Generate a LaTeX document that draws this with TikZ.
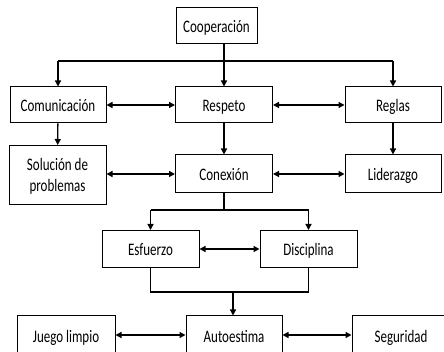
\documentclass[tikz,border=0pt]{standalone}
\usepackage{fontspec}
\setmainfont{Carlito}
\usetikzlibrary{arrows.meta}
\newcommand\tx[1]{\raisebox{-2pt}[\height][\depth]{\scalebox{1}[1.35]{\begin{tabular}{@{}c@{}}#1\end{tabular}}}}
\begin{document}
\begin{tikzpicture}[x=1pt,y=-1pt,
  box/.style={draw,line width=1pt,fill=white,inner sep=0pt,align=center,
    font=\fontsize{13}{15.5}\selectfont},
  conn/.style={line width=1.3pt},
  arr/.style={conn,-{Triangle[length=6pt,width=6pt]}},
  darr/.style={conn,{Triangle[length=6pt,width=6pt]}-{Triangle[length=6pt,width=6pt]}}]
\useasboundingbox (0,0) rectangle (444,352);
\clip (0,0) rectangle (444,352);
\fill[white] (0,0) rectangle (444,352);
% nodes
\node[box,minimum width=81pt,minimum height=36pt] (coop) at (216.5,26) {\tx{Cooperación}};
\node[box,minimum width=96pt,minimum height=36pt] (com) at (58,105) {\tx{Comunicación}};
\node[box,minimum width=97pt,minimum height=36pt] (res) at (224,105) {\tx{Respeto}};
\node[box,minimum width=96pt,minimum height=36pt] (reg) at (393,105) {\tx{Reglas}};
\node[box,minimum width=97pt,minimum height=59pt] (sol) at (57.5,175) {\tx{Solución de\\problemas}};
\node[box,minimum width=97pt,minimum height=38pt] (con) at (224,174) {\tx{Conexión}};
\node[box,minimum width=96pt,minimum height=38pt] (lid) at (393,174) {\tx{Liderazgo}};
\node[box,minimum width=97pt,minimum height=37pt] (esf) at (150.5,249) {\tx{Esfuerzo}};
\node[box,minimum width=97pt,minimum height=37pt] (dis) at (308.5,249) {\tx{Disciplina}};
\node[box,minimum width=98pt,minimum height=40pt] (jue) at (66,336) {\tx{Juego limpio}};
\node[box,minimum width=96pt,minimum height=40pt] (aut) at (234,336) {\tx{Autoestima}};
\node[box,minimum width=98pt,minimum height=40pt] (seg) at (401,336) {\tx{Seguridad}};
% junctions
\coordinate (j1) at (224,61);
\coordinate (j2) at (224,210);
\coordinate (j3) at (233,292);
% top branching
\draw[conn] (coop.south -| j1) -- (j1);
\draw[conn] (com.north |- j1) -- (reg.north |- j1);
\draw[arr] (com.north |- j1) -- (com.north);
\draw[arr] (j1) -- (res.north);
\draw[arr] (reg.north |- j1) -- (reg.north);
% horizontal links
\draw[darr] (com) -- (res);
\draw[darr] (res) -- (reg);
\draw[darr] (sol.east |- con) -- (con);
\draw[darr] (con) -- (lid);
% vertical links
\draw[arr] (com) -- (sol);
\draw[arr] (res) -- (con);
\draw[arr] (reg) -- (lid);
% middle branching
\draw[conn] (con.south) -- (j2);
\draw[conn] (esf.north |- j2) -- (dis.north |- j2);
\draw[arr] (esf.north |- j2) -- (esf.north);
\draw[arr] (dis.north |- j2) -- (dis.north);
\draw[darr] (esf) -- (dis);
% merge
\draw[conn] (esf.south) -- (esf.south |- j3) -- (dis.south |- j3) -- (dis.south);
\draw[arr] (j3) -- (j3 |- aut.north);
% bottom row
\draw[darr] (jue.east |- 0,335) -- (aut.west |- 0,335);
\draw[darr] (aut.east |- 0,335) -- (seg.west |- 0,335);
\end{tikzpicture}
\end{document}
